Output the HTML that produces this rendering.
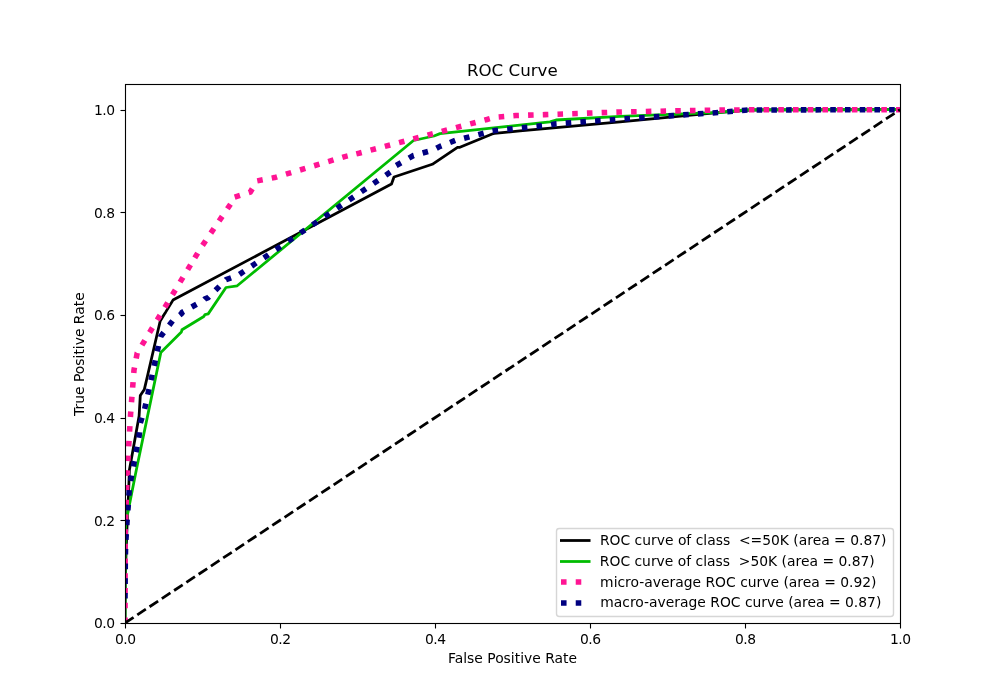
<!DOCTYPE html>
<html lang="en"><head><meta charset="utf-8"><title>ROC Curve</title>
<style>html,body{margin:0;padding:0;background:#fff;overflow:hidden}svg{display:block}text{font-family:"DejaVu Sans","Liberation Sans",sans-serif;fill:#000}.t10{font-size:13.889px}.t12{font-size:16.667px}.tk{letter-spacing:-0.5px}.tky{letter-spacing:-0.4px}</style></head><body>
<svg width="1000" height="700" viewBox="0 0 1000 700">
<rect width="1000" height="700" fill="#fff"/>
<defs><clipPath id="ax"><rect x="125" y="84" width="775" height="539"/></clipPath></defs>
<g clip-path="url(#ax)" fill="none" stroke-linejoin="round">
<path d="M125.00 623.00 L125.30 575.00 L127.00 527.00 L128.40 497.00 L129.40 470.00 L139.10 416.00 L140.30 395.60 L144.30 389.60 L147.70 375.00 L160.20 321.00 L164.30 314.20 L165.50 312.40 L173.00 300.10 L391.50 184.00 L394.00 177.00 L432.30 164.30 L457.50 147.40 L459.90 147.30 L492.20 134.00 L494.40 133.40 L520.00 130.90 L620.00 121.90 L720.00 112.40 L750.00 110.00 L900.00 109.67" stroke="#000" stroke-width="2.778" stroke-linecap="square"/>
<path d="M125.00 623.00 L125.20 560.00 L125.60 524.00 L136.30 470.00 L160.80 352.60 L181.40 332.00 L182.00 329.70 L203.80 316.50 L205.00 314.60 L208.20 313.90 L226.00 287.50 L237.20 285.80 L413.50 140.50 L434.00 136.00 L440.00 133.60 L550.00 121.90 L556.00 120.00 L620.00 116.40 L720.00 112.40 L745.00 110.00 L900.00 109.67" stroke="#00bc00" stroke-width="2.778" stroke-linecap="square"/>
<path d="M125.00 623.00 L125.20 530.00 L127.20 473.00 L128.20 455.00 L130.60 414.00 L134.00 370.00 L137.20 353.00 L192.76 261.21" stroke="#ff1493" stroke-width="5.556" stroke-dasharray="5.556 9.167" stroke-dashoffset="0.000"/>
<path d="M192.76 261.21 L201.00 247.60 L230.50 204.20 L232.22 200.81" stroke="#ff1493" stroke-width="5.556" stroke-dasharray="5.556 9.167" stroke-dashoffset="10.787"/>
<path d="M232.22 200.81 L234.00 197.30 L250.20 192.20 L255.28 183.89" stroke="#ff1493" stroke-width="5.556" stroke-dasharray="5.556 9.167" stroke-dashoffset="10.064"/>
<path d="M255.28 183.89 L257.10 180.90 L274.50 177.60 L344.80 156.60 L352.02 154.87" stroke="#ff1493" stroke-width="5.556" stroke-dasharray="5.556 9.167" stroke-dashoffset="11.064"/>
<path d="M352.02 154.87 L359.00 153.20 L487.00 119.50 L493.89 117.52" stroke="#ff1493" stroke-width="5.556" stroke-dasharray="5.556 9.167" stroke-dashoffset="10.315"/>
<path d="M493.89 117.52 L495.00 117.20 L516.00 115.50 L545.00 114.60 L620.00 112.00 L710.00 110.20 L750.00 109.80 L900.00 109.67" stroke="#ff1493" stroke-width="5.556" stroke-dasharray="5.556 9.167" stroke-dashoffset="9.866"/>
<path d="M125.00 598.60 L125.20 575.50 L125.30 563.00 L125.60 545.26 L127.00 521.97 L128.40 503.43 L129.40 487.41 L136.30 450.79 L139.10 436.29 L140.30 423.22 L144.30 410.63 L147.70 395.19 L160.20 338.24 L160.80 336.30 L164.30 331.65 L165.50 330.15 L173.00 320.25 L181.40 313.82 L182.00 312.51 L203.80 300.12 L205.00 298.85 L208.20 297.65 L226.00 279.72 L237.20 275.89 L391.50 171.32 L394.00 166.79 L413.50 155.52 L432.30 150.34 L434.00 149.58 L440.00 146.37 L457.50 139.57 L459.90 139.39 L492.20 131.02 L494.40 130.61 L520.00 128.00 L550.00 125.05 L556.00 123.83 L620.00 119.15 L720.00 112.40 L745.00 110.20 L750.00 109.99 L900.00 109.67" stroke="#000080" stroke-width="5.556" stroke-dasharray="5.556 9.167"/>
<path d="M125 623 L900 109.67" stroke="#000" stroke-width="2.778" stroke-dasharray="10.278 4.444"/>
</g>
<g stroke="#000" stroke-width="1.111" fill="none"><line x1="125.5" y1="623.5" x2="125.5" y2="628.5"/><line x1="280.5" y1="623.5" x2="280.5" y2="628.5"/><line x1="435.5" y1="623.5" x2="435.5" y2="628.5"/><line x1="590.5" y1="623.5" x2="590.5" y2="628.5"/><line x1="745.5" y1="623.5" x2="745.5" y2="628.5"/><line x1="900.5" y1="623.5" x2="900.5" y2="628.5"/><line x1="120.5" y1="623.5" x2="125.5" y2="623.5"/><line x1="120.5" y1="520.5" x2="125.5" y2="520.5"/><line x1="120.5" y1="418.5" x2="125.5" y2="418.5"/><line x1="120.5" y1="315.5" x2="125.5" y2="315.5"/><line x1="120.5" y1="212.5" x2="125.5" y2="212.5"/><line x1="120.5" y1="110.5" x2="125.5" y2="110.5"/><rect x="125.5" y="84.5" width="775" height="539" stroke-linejoin="miter"/></g>
<text class="t10 tk" x="125.25" y="643.7" text-anchor="middle">0.0</text>
<text class="t10 tk" x="280.25" y="643.7" text-anchor="middle">0.2</text>
<text class="t10 tk" x="435.25" y="643.7" text-anchor="middle">0.4</text>
<text class="t10 tk" x="590.25" y="643.7" text-anchor="middle">0.6</text>
<text class="t10 tk" x="745.25" y="643.7" text-anchor="middle">0.8</text>
<text class="t10 tk" x="900.25" y="643.7" text-anchor="middle">1.0</text>
<text class="t10 tky" x="114.75" y="628.30" text-anchor="end">0.0</text>
<text class="t10 tky" x="114.75" y="525.63" text-anchor="end">0.2</text>
<text class="t10 tky" x="114.75" y="422.97" text-anchor="end">0.4</text>
<text class="t10 tky" x="114.75" y="320.30" text-anchor="end">0.6</text>
<text class="t10 tky" x="114.75" y="217.63" text-anchor="end">0.8</text>
<text class="t10 tky" x="114.75" y="114.97" text-anchor="end">1.0</text>
<text id="title" class="t12" x="512.30" y="76" text-anchor="middle">ROC Curve</text>
<text id="xlabel" class="t10" x="512.50" y="663.3" text-anchor="middle">False Positive Rate</text>
<text id="ylabel" class="t10" transform="translate(83.58 354.12) rotate(-90)" text-anchor="middle">True Positive Rate</text>
<rect x="556.5" y="528.5" width="337" height="88" rx="2.78" ry="2.78" fill="#fff" stroke="#ccc" stroke-width="1.389" opacity="0.8"/>
<path d="M561.36 540.5 H589.14" stroke="#000" stroke-width="2.778" stroke-linecap="square"/>
<path d="M561.36 561.5 H589.14" stroke="#00bc00" stroke-width="2.778" stroke-linecap="square"/>
<path d="M561 582 H589.14" stroke="#ff1493" stroke-width="5.556" stroke-dasharray="5.556 9.167"/>
<path d="M561 603 H589.14" stroke="#000080" stroke-width="5.556" stroke-dasharray="5.556 9.167"/>
<text class="t10" x="599.95" y="545.00" xml:space="preserve" style="white-space:pre">ROC curve of class  &lt;=50K (area = 0.87)</text>
<text class="t10" x="599.83" y="566.00" xml:space="preserve" style="white-space:pre">ROC curve of class  &gt;50K (area = 0.87)</text>
<text class="t10" x="600.12" y="587.00" xml:space="preserve" style="white-space:pre">micro-average ROC curve (area = 0.92)</text>
<text class="t10" x="600.25" y="607.00" xml:space="preserve" style="white-space:pre">macro-average ROC curve (area = 0.87)</text>
</svg></body></html>
